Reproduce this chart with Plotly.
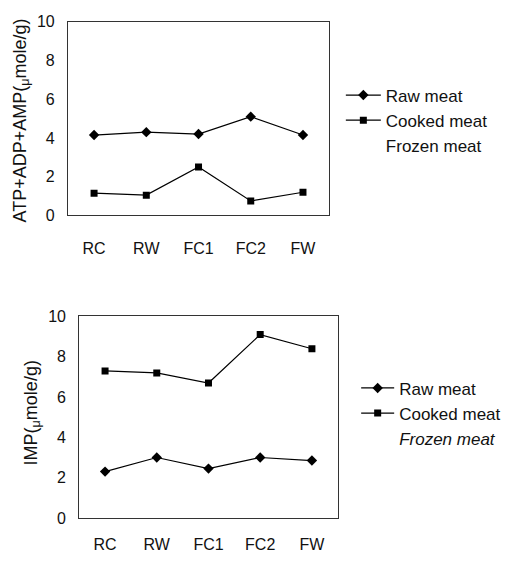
import plotly.graph_objects as go

categories = ["RC", "RW", "FC1", "FC2", "FW"]
atp_raw = [4.15, 4.3, 4.2, 5.1, 4.15]
atp_cooked = [1.15, 1.05, 2.5, 0.75, 1.2]
imp_raw = [2.3, 3.0, 2.45, 3.0, 2.85]
imp_cooked = [7.3, 7.2, 6.7, 9.1, 8.4]
y_ticks = [0, 2, 4, 6, 8, 10]
title_top = "ATP+ADP+AMP(<sub>μ</sub>mole/g)"
title_bottom = "IMP(<sub>μ</sub>mole/g)"

FONT = "Liberation Sans, Arial, sans-serif"
fig = go.Figure()

def add(x, y, name, sym, xa, ya, leg, size):
    fig.add_trace(go.Scatter(x=x, y=y, name=name, mode="lines+markers",
                             line=dict(color="black", width=1.2),
                             marker=dict(symbol=sym, size=size, color="black"),
                             xaxis=xa, yaxis=ya, legend=leg))

add(categories, atp_raw, "Raw meat", "diamond", "x", "y", "legend", 8)
add(categories, atp_cooked, "Cooked meat", "square", "x", "y", "legend", 7)
fig.add_trace(go.Scatter(x=[None], y=[None], name="Frozen meat", mode="lines",
                         line=dict(color="rgba(0,0,0,0)", width=0),
                         xaxis="x", yaxis="y", legend="legend"))
add(categories, imp_raw, "Raw meat", "diamond", "x2", "y2", "legend2", 8)
add(categories, imp_cooked, "Cooked meat", "square", "x2", "y2", "legend2", 7)
fig.add_trace(go.Scatter(x=[None], y=[None], name="<i>Frozen meat</i>", mode="lines",
                         line=dict(color="rgba(0,0,0,0)", width=0),
                         xaxis="x2", yaxis="y2", legend="legend2"))

axis_common = dict(showline=True, linecolor="#333", linewidth=1, mirror=True,
                   showgrid=False, zeroline=False, ticks="",
                   tickfont=dict(family=FONT, size=16, color="#111"))

fig.update_layout(
    width=511, height=563, margin=dict(l=0, r=0, t=0, b=0),
    paper_bgcolor="white", plot_bgcolor="white",
    font=dict(family=FONT, color="#111"),
    xaxis=dict(domain=[0.133, 0.644], anchor="y", type="category",
               categoryorder="array", categoryarray=categories,
               range=[-0.5, 4.5], ticklabelstandoff=18, **axis_common),
    yaxis=dict(domain=[0.620, 0.975], anchor="x", range=[0, 10],
               tickvals=y_ticks, ticklabelstandoff=9, **axis_common),
    xaxis2=dict(domain=[0.155, 0.661], anchor="y2", type="category",
                categoryorder="array", categoryarray=categories,
                range=[-0.5, 4.5], ticklabelstandoff=12, **axis_common),
    yaxis2=dict(domain=[0.066, 0.435], anchor="x2", range=[0, 10],
                tickvals=y_ticks, ticklabelstandoff=9, **axis_common),
    annotations=[
        dict(text=title_top, textangle=-90, x=21 / 511, y=0.794,
             xref="paper", yref="paper", xanchor="center", yanchor="middle",
             showarrow=False, font=dict(family=FONT, size=18, color="#111")),
        dict(text=title_bottom, textangle=-90, x=32 / 511, y=0.2575,
             xref="paper", yref="paper", xanchor="center", yanchor="middle",
             showarrow=False, font=dict(family=FONT, size=18, color="#111")),
    ],
    legend=dict(x=0.667, y=0.794, xanchor="left", yanchor="middle",
                bgcolor="rgba(0,0,0,0)", font=dict(family=FONT, size=17),
                itemwidth=35, tracegroupgap=0),
    legend2=dict(x=0.697, y=0.2575, xanchor="left", yanchor="middle",
                 bgcolor="rgba(0,0,0,0)", font=dict(family=FONT, size=17),
                 itemwidth=33, tracegroupgap=0),
)

fig.write_html("out.html")
